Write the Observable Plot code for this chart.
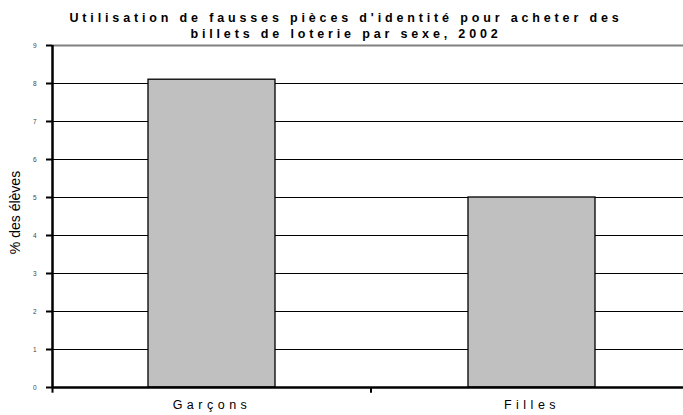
<!DOCTYPE html>
<html><head><meta charset="utf-8">
<script src="https://cdn.jsdelivr.net/npm/d3@7"></script>
<script src="https://cdn.jsdelivr.net/npm/@observablehq/plot@0.6"></script>
<style>
body{margin:0;background:#fff;}
svg{font-family:Arial,"Liberation Sans",sans-serif;}
</style>
</head><body>
<div id="chart"></div>
<script>
const categories = ["Garçons", "Filles"];
const values = [8.1, 5.0];
const yTicks = [0,1,2,3,4,5,6,7,8,9];
const titleLines = ["Utilisation de fausses pièces d'identité pour acheter des", "billets de loterie par sexe, 2002"];
const yLabel = "% des élèves";

const data = categories.map((c, i) => ({sexe: c, pct: values[i]}));

const chart = Plot.plot({
  width: 683,
  height: 415,
  marginLeft: 52,
  marginRight: 0,
  marginTop: 45,
  marginBottom: 28,
  style: {fontFamily: "Arial, 'Liberation Sans', sans-serif", background: "#fff"},
  x: {domain: categories, range: [52, 692], paddingInner: 0.603, paddingOuter: 0.3, axis: null},
  y: {domain: [0, 9], axis: null},
  marks: [
    Plot.ruleY(yTicks.filter(d => d > 0 && d < 9), {stroke: "#000", strokeWidth: 1}),
    Plot.ruleY([9], {stroke: "#808080", strokeWidth: 2}),
    Plot.barY(data, {x: "sexe", y: "pct", fill: "#c0c0c0", stroke: "#000", strokeWidth: 1.3}),
    Plot.axisY(yTicks, {tickSize: 6, tickPadding: 10, fontSize: 6.5, fill: "#444", stroke: "#000", strokeWidth: 2, label: null}),
    Plot.ruleX([categories[0]], {x: d => d, y1: 0, y2: 9, dx: -159.5, stroke: "#000", strokeWidth: 2.5}),
    Plot.ruleX([categories[0]], {x: d => d, y1: 0, y2: -0.15, dx: -159.5, stroke: "#000", strokeWidth: 2}),
    Plot.ruleX([categories[0]], {x: d => d, y1: 0, y2: -0.15, dx: 159, stroke: "#000", strokeWidth: 2}),
    Plot.ruleY([0], {stroke: "#000", strokeWidth: 2.5}),
    Plot.text(categories, {x: d => d, frameAnchor: "bottom", dy: 21, fontSize: 12.5, text: d => d}),
    Plot.text([yLabel], {frameAnchor: "left", textAnchor: "middle", dx: -37, dy: -4, rotate: -90, fontSize: 14, text: d => d}),
    Plot.text([titleLines[0]], {frameAnchor: "top", dx: -22, dy: -32, fontSize: 12.5, fontWeight: "bold", text: d => d}),
    Plot.text([titleLines[1]], {frameAnchor: "top", dx: -22, dy: -16, fontSize: 12.5, fontWeight: "bold", text: d => d})
  ]
});
// letter spacing for title and category labels
d3.select(chart).selectAll("text").each(function() {
  const t = this.textContent;
  if (titleLines.includes(t)) d3.select(this).style("letter-spacing", "3.85px");
  if (categories.includes(t)) d3.select(this).style("letter-spacing", "4.5px");
});
document.getElementById("chart").appendChild(chart);
</script>
</body></html>
